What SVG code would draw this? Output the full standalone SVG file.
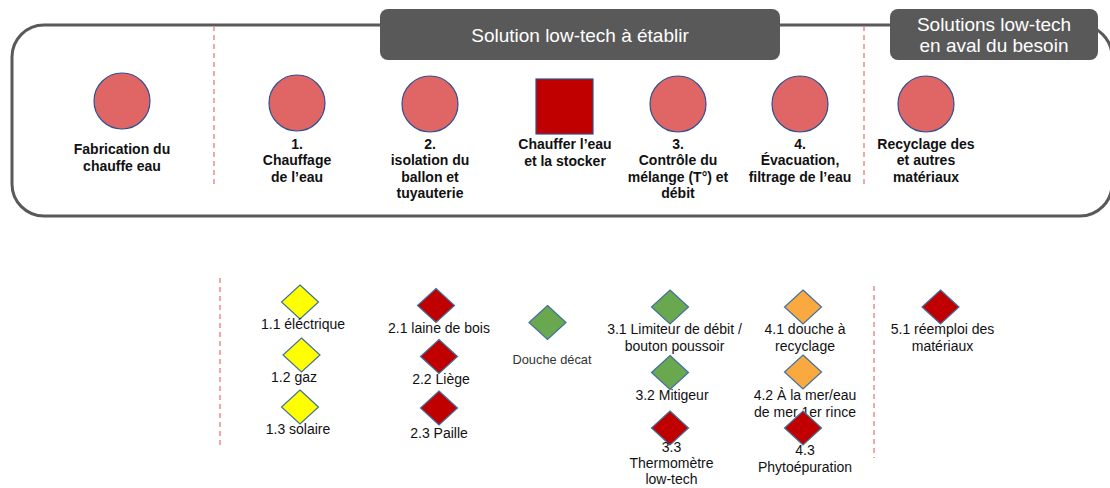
<svg xmlns="http://www.w3.org/2000/svg" width="1110" height="488" viewBox="0 0 1110 488">
<style>
.frame{fill:none;stroke:#595959;stroke-width:3}
.hdr{fill:#595959}
.htxt{font-family:"Liberation Sans",Arial,sans-serif;font-size:19px;fill:#ffffff;text-anchor:middle}
.sep{stroke:#EE8A8A;stroke-width:1.5;stroke-dasharray:5,4;fill:none}
.circ{fill:#E06666;stroke:#2F4F8F;stroke-width:1.2}
.sq{fill:#C00000;stroke:#2F4F8F;stroke-width:1.2}
.blab{font-family:"Liberation Sans",Arial,sans-serif;font-size:14px;font-weight:bold;fill:#111;text-anchor:middle}
.lab{font-family:"Liberation Sans",Arial,sans-serif;font-size:14px;fill:#111;text-anchor:middle}
.lab2{font-family:"Liberation Sans",Arial,sans-serif;font-size:12.8px;fill:#333;text-anchor:middle}
.d{stroke:#41719C;stroke-width:1.2}
.y{fill:#FFFF00}.r{fill:#C00000}.g{fill:#6AA84F}.o{fill:#F9A940}
</style>
<defs>
<path id="dia" d="M0,-17 L18.5,0 L0,17 L-18.5,0 Z"/>
</defs>
<rect class="frame" x="12" y="25" width="1100" height="191" rx="32" ry="32"/>
<g id="hdr1"><rect class="hdr" x="380" y="9" width="400" height="51" rx="8"/><text class="htxt" x="580" y="42">Solution low-tech à établir</text></g>
<g id="hdr2"><rect class="hdr" x="890" y="9" width="208" height="51" rx="8"/><text class="htxt" x="994" y="31">Solutions low-tech</text><text class="htxt" x="994" y="52">en aval du besoin</text></g>
<g id="separators">
<line class="sep" x1="214" y1="26" x2="214" y2="184"/>
<line class="sep" x1="864" y1="26" x2="864" y2="188"/>
<line class="sep" x1="220" y1="278" x2="220" y2="448"/>
<line class="sep" x1="874" y1="286" x2="874" y2="458"/>
</g>
<g id="n-fab"><circle class="circ" cx="122" cy="101" r="28"/><text class="blab" x="122" y="154">Fabrication du</text><text class="blab" x="122" y="170.5">chauffe eau</text></g>
<g id="n-1"><circle class="circ" cx="297" cy="103" r="28"/><text class="blab" x="297" y="148.5">1.</text><text class="blab" x="297" y="165">Chauffage</text><text class="blab" x="297" y="181.5">de l’eau</text></g>
<g id="n-2"><circle class="circ" cx="430" cy="104" r="28"/><text class="blab" x="430" y="148.5">2.</text><text class="blab" x="430" y="165">isolation du</text><text class="blab" x="430" y="181.5">ballon et</text><text class="blab" x="430" y="198">tuyauterie</text></g>
<g id="n-chauffer"><rect class="sq" x="536" y="79" width="57" height="55"/><text class="blab" x="565" y="149">Chauffer l’eau</text><text class="blab" x="565" y="165.5">et la stocker</text></g>
<g id="n-3"><circle class="circ" cx="678" cy="104" r="28"/><text class="blab" x="678" y="148.5">3.</text><text class="blab" x="678" y="165">Contrôle du</text><text class="blab" x="678" y="181.5">mélange (T°) et</text><text class="blab" x="678" y="198">débit</text></g>
<g id="n-4"><circle class="circ" cx="800" cy="104" r="28"/><text class="blab" x="800" y="148.5">4.</text><text class="blab" x="800" y="165">Évacuation,</text><text class="blab" x="800" y="181.5">filtrage de l’eau</text></g>
<g id="n-5"><circle class="circ" cx="926" cy="104" r="28"/><text class="blab" x="926" y="148.5">Recyclage des</text><text class="blab" x="926" y="165">et autres</text><text class="blab" x="926" y="181.5">matériaux</text></g>
<g id="s-1-1"><use href="#dia" class="d y" x="300" y="302"/><text class="lab" x="303" y="329">1.1 éléctrique</text></g>
<g id="s-1-2"><use href="#dia" class="d y" x="301.5" y="355"/><text class="lab" x="294" y="382">1.2 gaz</text></g>
<g id="s-1-3"><use href="#dia" class="d y" x="300" y="407"/><text class="lab" x="298" y="434">1.3 solaire</text></g>
<g id="s-2-1"><use href="#dia" class="d r" x="436" y="305.5"/><text class="lab" x="439" y="333">2.1 laine de bois</text></g>
<g id="s-2-2"><use href="#dia" class="d r" x="439" y="356.5"/><text class="lab" x="441" y="384">2.2 Liège</text></g>
<g id="s-2-3"><use href="#dia" class="d r" x="439" y="408"/><text class="lab" x="439" y="438">2.3 Paille</text></g>
<g id="s-douche"><use href="#dia" class="d g" x="547.5" y="322.5"/><text class="lab2" x="552" y="364">Douche décat</text></g>
<g id="s-3-1"><use href="#dia" class="d g" x="670" y="307"/><text class="lab" x="674.5" y="334">3.1 Limiteur de débit /</text><text class="lab" x="674.5" y="350.5">bouton poussoir</text></g>
<g id="s-3-2"><use href="#dia" class="d g" x="670" y="372.5"/><text class="lab" x="672" y="399.5">3.2 Mitigeur</text></g>
<g id="s-3-3"><use href="#dia" class="d r" x="670" y="428"/><text class="lab" x="671.5" y="452">3.3</text><text class="lab" x="671.5" y="468">Thermomètre</text><text class="lab" x="671.5" y="484">low-tech</text></g>
<g id="s-4-1"><use href="#dia" class="d o" x="803" y="307"/><text class="lab" x="805" y="334">4.1 douche à</text><text class="lab" x="805" y="350.5">recyclage</text></g>
<g id="s-4-2"><use href="#dia" class="d o" x="803" y="372"/><text class="lab" x="805" y="400">4.2 À la mer/eau</text><text class="lab" x="805" y="416.5">de mer 1er rince</text></g>
<g id="s-4-3"><use href="#dia" class="d r" x="803" y="428"/><text class="lab" x="805" y="455">4.3</text><text class="lab" x="805" y="471.5">Phytoépuration</text></g>
<g id="s-5-1"><use href="#dia" class="d r" x="940.5" y="307"/><text class="lab" x="942.5" y="334">5.1 réemploi des</text><text class="lab" x="942.5" y="350.5">matériaux</text></g>
<g id="connectors"></g>
</svg>
